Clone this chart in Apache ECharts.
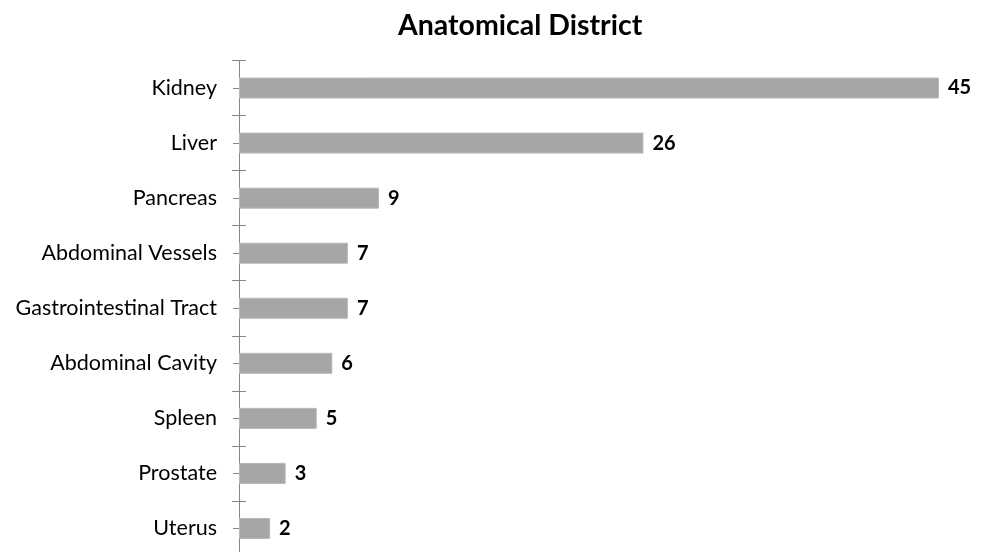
<!DOCTYPE html>
<html>
<head>
<meta charset="utf-8">
<script src="https://cdn.jsdelivr.net/npm/echarts@6/dist/echarts.min.js"></script>
<style>html,body{margin:0;padding:0;background:#fff;overflow:hidden}#c{width:983px;height:556px}</style>
</head>
<body>
<div id="c"></div>
<script>
const categories = ["Kidney","Liver","Pancreas","Abdominal Vessels","Gastrointestinal Tract","Abdominal Cavity","Spleen","Prostate","Uterus"];
const values = [45,26,9,7,7,6,5,3,2];
const titleText = "Anatomical District";

const FONT = "Lato";
const chart = echarts.init(document.getElementById('c'));
const axisCommon = {
  type: 'category', data: categories, inverse: true, position: 'left',
  axisLine: {show: true, lineStyle: {color: '#868686', width: 1}},
  splitLine: {show: false}
};
chart.setOption({
  animation: false,
  title: {text: titleText, left: 393, top: 6, textStyle: {fontFamily: FONT, fontWeight: 'bold', fontSize: 28.5, color: '#000'}},
  grid: {left: 239, right: 44, top: 60.5, bottom: 0, containLabel: false},
  xAxis: {type: 'value', min: 0, max: 45, show: false},
  yAxis: [
    Object.assign({}, axisCommon, {
      axisTick: {show: true, inside: false, length: 7, lineStyle: {color: '#868686'}},
      axisLabel: {margin: 22, fontFamily: FONT, fontSize: 21.5, color: '#000'}
    }),
    Object.assign({}, axisCommon, {
      axisTick: {show: true, inside: true, length: 7, lineStyle: {color: '#868686'}},
      axisLabel: {show: false}
    }),
    Object.assign({}, axisCommon, {
      axisTick: {show: true, alignWithLabel: true, inside: false, length: 6, lineStyle: {color: '#868686'}},
      axisLabel: {show: false}
    })
  ],
  series: [{
    type: 'bar', data: values, yAxisIndex: 0, barWidth: 21,
    itemStyle: {color: '#A6A6A6', borderColor: '#B8B8B8', borderWidth: 1},
    label: {show: true, position: 'right', distance: 9, fontFamily: FONT, fontWeight: 'bold', fontSize: 20, color: '#000'}
  }]
});
</script>
</body>
</html>
